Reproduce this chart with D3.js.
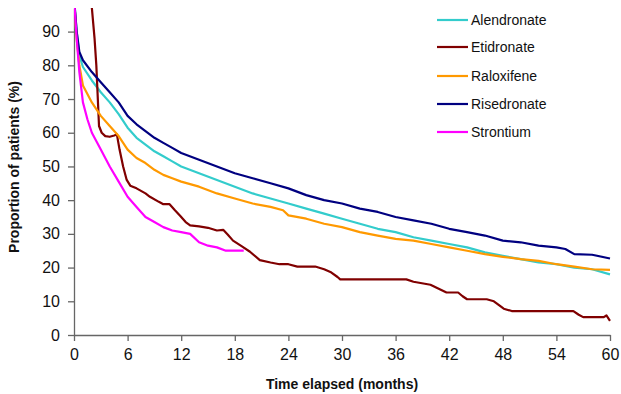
<!DOCTYPE html>
<html>
<head>
<meta charset="utf-8">
<script src="https://cdn.jsdelivr.net/npm/d3@7/dist/d3.min.js"></script>
<style>
  body { margin: 0; background: #fff; }
  svg { font-family: "Liberation Sans", Arial, sans-serif; }
</style>
</head>
<body>
<div id="chart"></div>
<script>
// persistence curves, [month, % of patients]
const alendronate = [[0,100],[0.3,90],[0.6,83],[1,79.5],[2,75.5],[3,72],[4,69],[5,65.5],[6,61.5],[7,58.5],[8,56.5],[9,54.5],[10,53],[11,51.5],[12,50],[14,48],[16,46],[18,44],[20,42],[22,40.5],[24,39],[26,37.5],[28,36],[30,34.5],[32,33],[34,31.5],[36,30.5],[38,29],[40,28],[42,27],[44,26],[46,24.5],[48,23.5],[50,22.5],[52,21.5],[54,21],[56,20],[58,19.5],[60,18]];
const etidronate = [[0,100],[1.8,100],[2,97],[2.3,88],[2.5,80],[2.7,68],[2.8,62],[3.1,60],[3.5,59],[4,58.8],[4.5,59.2],[4.8,59.5],[5.1,55],[5.5,50],[5.9,46],[6.3,44.3],[7,43.5],[8,42],[8.5,41],[9.5,39.5],[10,38.8],[10.7,38.8],[11.3,37],[11.9,35.3],[12.5,33.5],[13,32.5],[14,32.2],[15,31.8],[16,31],[16.7,31.2],[17.2,29.8],[17.8,28],[18.8,26.3],[19.7,24.7],[20.8,22.2],[22,21.5],[23,21],[24,21],[25,20.3],[27,20.3],[28,19.5],[28.7,18.7],[29.5,17.2],[29.8,16.5],[37.2,16.5],[38,15.8],[39.9,14.9],[41,13.5],[41.7,12.6],[43,12.6],[43.5,11.5],[44,10.6],[46.2,10.6],[47,10],[47.5,9],[48.1,7.8],[49,7.1],[55.9,7.1],[56.5,6],[57,5.3],[59.3,5.3],[59.6,5.8],[60,4.2]];
const raloxifene = [[0,100],[0.3,88],[0.6,80],[1,74],[2,69],[3,65],[4,62],[5,59],[6,55],[7,52.5],[8,51],[9,49],[10,47.5],[11,46.5],[12,45.5],[14,44],[16,42],[18,40.5],[20,39],[22,38],[23.4,37],[24,35.5],[26,34.5],[28,33],[30,32],[32,30.5],[34,29.5],[36,28.5],[38,28],[40,27],[42,26],[44,25],[46,24],[48,23.2],[50,22.5],[52,22],[54,21],[56,20.3],[58,19.5],[60,19.3]];
const risedronate = [[0,100],[0.3,90],[0.6,84],[1,81.5],[2,78],[3,75],[4,72],[5,69],[6,65],[7,62.5],[8,60.5],[9,58.5],[10,57],[11,55.5],[12,54],[14,52],[16,50],[18,48],[20,46.5],[22,45],[24,43.5],[26,41.5],[28,40],[30,39],[32,37.5],[34,36.5],[36,35],[38,34],[40,33],[42,31.5],[44,30.5],[46,29.5],[48,28],[50,27.5],[52,26.5],[54,26],[55,25.5],[56,24],[58,23.8],[60,22.7]];
const strontium = [[0,100],[0.3,88],[0.6,78],[1,69],[1.5,64],[2,60],[3,55],[4,50],[5,45.5],[6,41],[7,38],[8,35],[9,33.5],[10,32],[11,31],[12,30.5],[13,30],[14,27.5],[15,26.5],[16,26],[17,25],[18,25],[19,25]];

const seriesNames = ["Alendronate", "Etidronate", "Raloxifene", "Risedronate", "Strontium"];
const seriesData = [alendronate, etidronate, raloxifene, risedronate, strontium];
const seriesColors = ["#33cccc", "#800000", "#ff9900", "#000080", "#ff00ff"];

const xTicks = [0, 6, 12, 18, 24, 30, 36, 42, 48, 54, 60];
const yTicks = [0, 10, 20, 30, 40, 50, 60, 70, 80, 90];

const width = 621, height = 394;
const margin = {top: 8, right: 11, bottom: 59, left: 74};

const svg = d3.select("#chart").append("svg")
  .attr("width", width)
  .attr("height", height);

const x = d3.scaleLinear().domain([0, 60]).range([margin.left, width - margin.right]);
const y = d3.scaleLinear().domain([0, 97]).range([height - margin.bottom, margin.top]);

svg.append("clipPath").attr("id", "plot-clip")
  .append("rect")
  .attr("x", margin.left)
  .attr("y", margin.top)
  .attr("width", width - margin.left - margin.right + 2)
  .attr("height", height - margin.top - margin.bottom);

// axes
const xAxis = svg.append("g")
  .attr("transform", `translate(0,${height - margin.bottom})`)
  .call(d3.axisBottom(x).tickValues(xTicks).tickSize(6).tickSizeOuter(0).tickPadding(8));

const yAxis = svg.append("g")
  .attr("transform", `translate(${margin.left},0)`)
  .call(d3.axisLeft(y).tickValues(yTicks).tickSize(6).tickSizeOuter(0).tickPadding(8));

[xAxis, yAxis].forEach(g => {
  g.select(".domain").attr("stroke", "#666").attr("stroke-width", 1.3);
  g.selectAll(".tick line").attr("stroke", "#666").attr("stroke-width", 1.3);
  g.selectAll(".tick text")
    .attr("font-family", "Liberation Sans, Arial, sans-serif")
    .attr("font-size", "16px")
    .attr("fill", "#111");
});

// lines
const line = d3.line()
  .x(d => x(d[0]))
  .y(d => y(d[1]));

svg.append("g")
  .attr("clip-path", "url(#plot-clip)")
  .selectAll("path")
  .data(seriesData)
  .enter()
  .append("path")
  .attr("d", line)
  .attr("fill", "none")
  .attr("stroke", (d, i) => seriesColors[i])
  .attr("stroke-width", 2.2)
  .attr("stroke-linejoin", "round");

// legend
const legend = svg.append("g").attr("transform", "translate(437,20)");
const rowY = [0, 27, 56, 84, 112];
seriesNames.forEach((name, i) => {
  const row = legend.append("g").attr("transform", `translate(0,${rowY[i]})`);
  row.append("line")
    .attr("x1", 0).attr("x2", 31)
    .attr("y1", 0).attr("y2", 0)
    .attr("stroke", seriesColors[i])
    .attr("stroke-width", 2.2);
  row.append("text")
    .attr("x", 34)
    .attr("y", 5)
    .attr("font-size", "14px")
    .attr("fill", "#111")
    .text(name);
});

// axis titles
svg.append("text")
  .attr("x", 342)
  .attr("y", 389)
  .attr("text-anchor", "middle")
  .attr("font-size", "14px")
  .attr("font-weight", "bold")
  .attr("fill", "#111")
  .text("Time elapsed (months)");

svg.append("text")
  .attr("transform", "translate(19,167) rotate(-90)")
  .attr("text-anchor", "middle")
  .attr("font-size", "14px")
  .attr("font-weight", "bold")
  .attr("fill", "#111")
  .text("Proportion of patients (%)");
</script>
</body>
</html>
